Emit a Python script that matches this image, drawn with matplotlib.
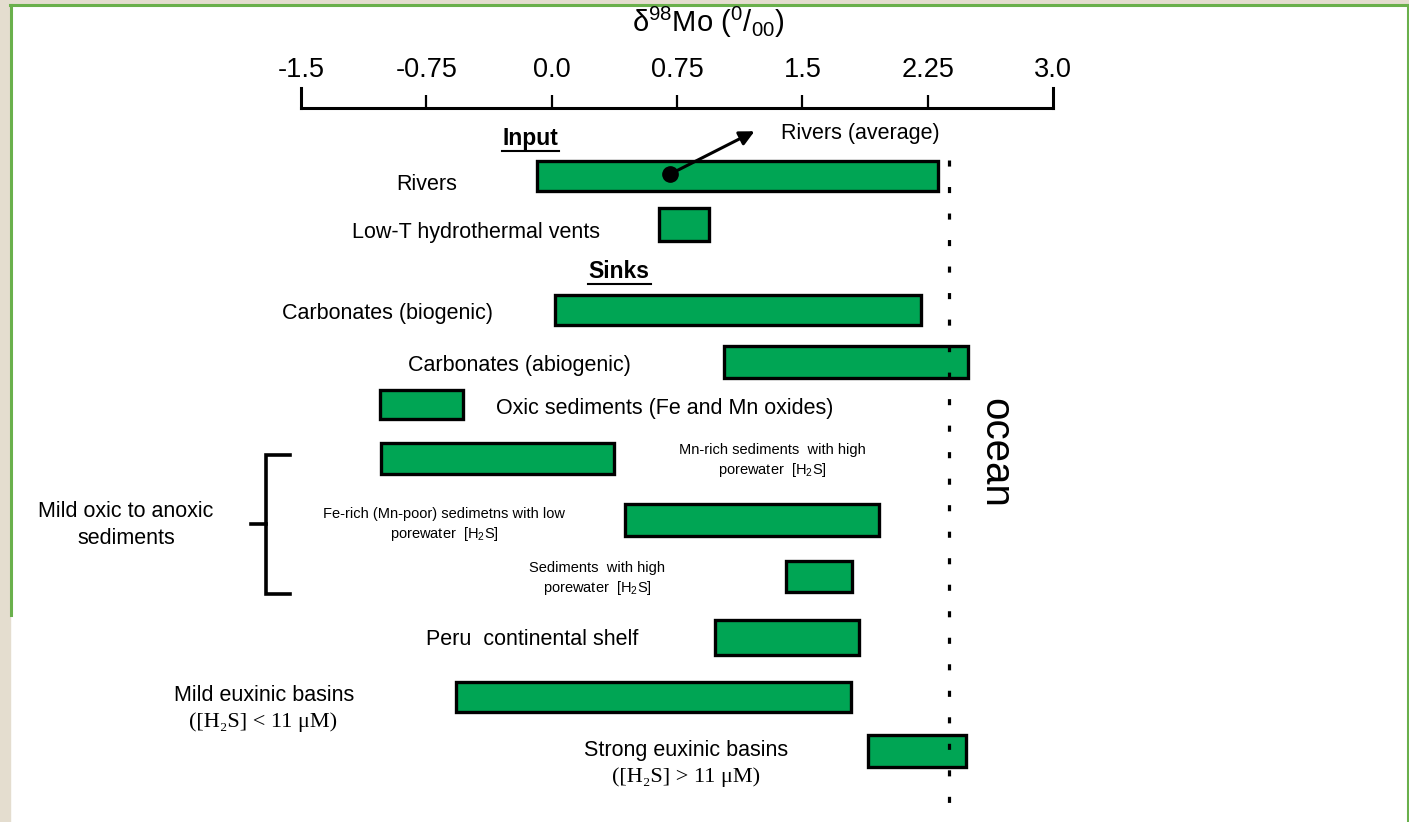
import matplotlib
matplotlib.use("Agg")
import matplotlib.pyplot as plt
import matplotlib.patches as mpatches

plt.rcParams['font.family'] = ['Liberation Sans', 'DejaVu Sans']
plt.rcParams['mathtext.fontset'] = 'custom'
plt.rcParams['mathtext.rm'] = 'Liberation Sans'
plt.rcParams['mathtext.it'] = 'Liberation Sans'

# delta98Mo ranges (per mil)
names = ["Rivers", "Low-T hydrothermal vents", "Carbonates (biogenic)",
         "Carbonates (abiogenic)", "Oxic sediments", "Mn-rich sediments",
         "Fe-rich sediments", "Sediments high H2S", "Peru continental shelf",
         "Mild euxinic basins", "Strong euxinic basins"]
low = [-0.09, 0.64, 0.02, 1.03, -1.03, -1.02, 0.44, 1.40, 0.98, -0.57, 1.89]
high = [2.31, 0.94, 2.21, 2.49, -0.53, 0.37, 1.96, 1.80, 1.84, 1.79, 2.48]
river_avg = 0.71
ocean = 2.38
tick_vals = [-1.5, -0.75, 0.0, 0.75, 1.5, 2.25, 3.0]
tick_labels = ["-1.5", "-0.75", "0.0", "0.75", "1.5", "2.25", "3.0"]

# layout: row centres / heights in pixel rows (top = 0)
row_y = [176.5, 224.5, 309.5, 362, 404.5, 458.5, 520, 576.5, 637.5, 697, 751]
row_h = [30, 33, 30, 32, 29, 31, 32, 31, 35, 30, 32]

W, H = 1409, 822
X0, PPU = 551.7, 167.1  # pixel of 0.0 and pixels per unit


def xv(px):
    return (px - X0) / PPU


fig = plt.figure(figsize=(W / 100, H / 100), dpi=100)
fig.patch.set_facecolor('white')
ax = fig.add_axes([0, 0, 1, 1])
ax.set_xlim(xv(0), xv(W))
ax.set_ylim(H, 0)
ax.axis('off')

# page frame
beige = '#e4ddcf'
green = '#6ab04c'
ax.add_patch(mpatches.Rectangle((xv(0), 0), xv(10) - xv(0), H, color=beige, zorder=0))
ax.add_patch(mpatches.Rectangle((xv(0), 0), xv(W) - xv(0), 4, color=beige, zorder=0))
ax.plot([xv(10), xv(W)], [5, 5], color=green, lw=2.2, zorder=1)
ax.plot([xv(10.5), xv(10.5)], [5, 615], color=green, lw=2.2, zorder=1)
ax.plot([xv(1407.5), xv(1407.5)], [5, H], color=green, lw=2.2, zorder=1)

# bars
widths = [h - l for l, h in zip(low, high)]
ax.barh(row_y, widths, left=low, height=row_h, color='#00a554',
        edgecolor='black', linewidth=2.4, zorder=3)

# ocean line
ax.plot([ocean, ocean], [160, H], color='black', lw=2.3,
        linestyle=(0, (1.9, 6.4)), zorder=4)
ax.text(xv(995), 453, 'ocean', rotation=-90, ha='center', va='center',
        fontsize=29, zorder=5)

# river average point and arrow
ax.plot([river_avg], [174], marker='o', color='black', markersize=11,
        zorder=6)
ax.annotate('', xy=(xv(757), 130), xytext=(river_avg, 174),
            arrowprops=dict(arrowstyle='-|>', color='black', lw=2.2,
                            mutation_scale=22), zorder=6)
ax.text(xv(860), 134, 'Rivers (average)', ha='center', va='center', fontsize=15.5)

# labels
big = 15.5
ax.text(xv(530), 138, 'Input', ha='center', va='center', fontsize=16.5,
        fontweight='bold')
ax.plot([xv(502), xv(559)], [151, 151], color='black', lw=1.5)
ax.text(xv(619), 271, 'Sinks', ha='center', va='center', fontsize=16.5,
        fontweight='bold')
ax.plot([xv(588), xv(651)], [284, 284], color='black', lw=1.5)

ax.text(xv(427), 185, 'Rivers', ha='center', va='center', fontsize=big)
ax.text(xv(476), 232, 'Low-T hydrothermal vents', ha='center', va='center', fontsize=big)
ax.text(xv(387), 313, 'Carbonates (biogenic)', ha='center', va='center', fontsize=big)
ax.text(xv(519), 365, 'Carbonates (abiogenic)', ha='center', va='center', fontsize=big)
ax.text(xv(665), 408, 'Oxic sediments (Fe and Mn oxides)', ha='center',
        va='center', fontsize=big)
ax.text(xv(772), 461, 'Mn-rich sediments  with high\nporewater  [H$_2$S]',
        ha='center', va='center', fontsize=10.5, linespacing=1.3)
ax.text(xv(444), 525, 'Fe-rich (Mn-poor) sedimetns with low\nporewater  [H$_2$S]',
        ha='center', va='center', fontsize=10.5, linespacing=1.3)
ax.text(xv(597), 579, 'Sediments  with high\nporewater  [H$_2$S]',
        ha='center', va='center', fontsize=10.5, linespacing=1.3)
ax.text(xv(126), 525, 'Mild oxic to anoxic\nsediments', ha='center',
        va='center', fontsize=big, linespacing=1.35)
ax.text(xv(532), 639, 'Peru  continental shelf', ha='center', va='center', fontsize=big)

serif = ['Liberation Serif', 'DejaVu Serif']
ax.text(xv(264), 695, 'Mild euxinic basins', ha='center', va='center', fontsize=big)
ax.text(xv(263), 722, '([H\u2082S] < 11 \u03bcM)', ha='center', va='center',
        fontsize=16, family=serif)
ax.text(xv(686), 750, 'Strong euxinic basins', ha='center', va='center', fontsize=big)
ax.text(xv(686), 777, '([H\u2082S] > 11 \u03bcM)', ha='center', va='center',
        fontsize=16, family=serif)

# bracket
bx = xv(266)
ax.plot([xv(290), bx, bx, xv(290)], [455, 455, 594, 594], color='black',
        lw=2.6, solid_joinstyle='miter')
ax.plot([xv(251), bx], [524, 524], color='black', lw=2.6)

# top scale axis
sax = fig.add_axes([301 / W, (H - 108) / H, 752 / W, 20 / H])
sax.set_xlim(tick_vals[0], tick_vals[-1])
sax.set_ylim(0, 1)
sax.patch.set_alpha(0)
sax.spines['top'].set_visible(False)
for s in ['left', 'right', 'bottom']:
    sax.spines[s].set_linewidth(2.2)
sax.set_yticks([])
sax.set_xticks(tick_vals[1:-1])
sax.tick_params(axis='x', direction='in', length=9.5, width=1.6,
                bottom=True, top=False, labelbottom=False, labeltop=False)
for v, lab in zip(tick_vals, tick_labels):
    sax.text(v, 1.0, lab, transform=sax.get_xaxis_transform(), ha='center',
             va='center', fontsize=19.5)
# place labels above the scale line
for t in sax.texts:
    t.set_y(1.9)
fig.text(708 / W, 1 - 22 / H, '\u03b4$^{98}$Mo ($^{0}$/$_{00}$)', ha='center',
         va='center', fontsize=21)

fig.savefig('out.png', dpi=100)
